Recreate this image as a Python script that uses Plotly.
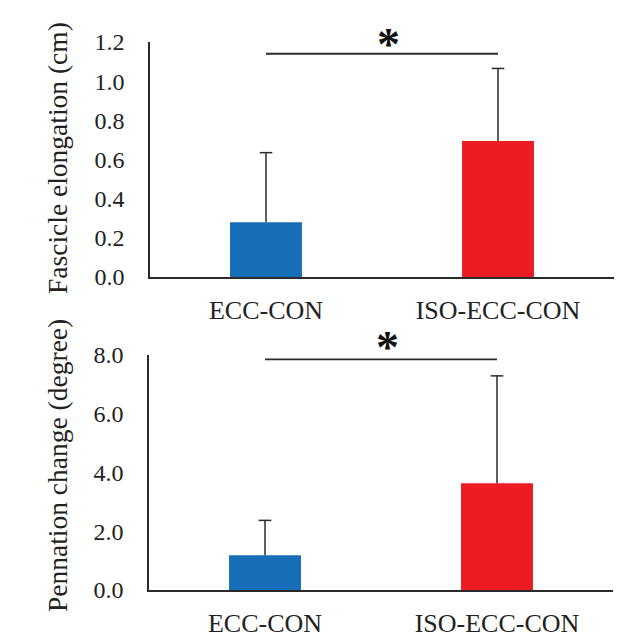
import plotly.graph_objects as go

categories = ["ECC-CON", "ISO-ECC-CON"]
fascicle_mean = [0.28, 0.695]
fascicle_sd = [0.355, 0.37]
pennation_mean = [1.18, 3.63]
pennation_sd = [1.19, 3.66]
fascicle_ticks = [0.0, 0.2, 0.4, 0.6, 0.8, 1.0, 1.2]
pennation_ticks = [0.0, 2.0, 4.0, 6.0, 8.0]
bar_colors = ["#176EB8", "#EC1C24"]
sig_fascicle = 1.14
sig_pennation = 7.85

FONT = "Liberation Serif, Times New Roman, serif"
AX = "#2a2a2a"
W = H = 640
OFF = 8  # page body margin


def px(xp):
    return (xp - OFF) / W


def py(yp):
    return 1 - (yp - OFF) / H


fig = go.Figure()


def add_panel(means, sds, xa, ya):
    fig.add_trace(go.Bar(x=categories, y=means, marker=dict(color=bar_colors, line=dict(width=0)),
                         width=0.31, xaxis=xa, yaxis=ya, showlegend=False))
    ex, ey = [], []
    for c, m, s in zip(categories, means, sds):
        ex += [c, c, None]
        ey += [m, m + s, None]
    fig.add_trace(go.Scatter(x=ex, y=ey, mode="lines", line=dict(color=AX, width=1.5),
                             xaxis=xa, yaxis=ya, showlegend=False, hoverinfo="skip"))
    fig.add_trace(go.Scatter(x=categories, y=[m + s for m, s in zip(means, sds)], mode="markers",
                             marker=dict(symbol="line-ew", size=9, line=dict(color=AX, width=1.5)),
                             xaxis=xa, yaxis=ya, showlegend=False, hoverinfo="skip", cliponaxis=False))


add_panel(fascicle_mean, fascicle_sd, "x", "y")
add_panel(pennation_mean, pennation_sd, "x2", "y2")

xcommon = dict(range=[-0.5, 1.5], showgrid=False, zeroline=False, showline=True, linecolor=AX,
               linewidth=1.5, ticks="", tickfont=dict(family=FONT, size=26, color="#222"),
               ticklabelstandoff=9, fixedrange=True, automargin=False)
ycommon = dict(showgrid=False, zeroline=False, showline=True, linecolor=AX, linewidth=1.5,
               ticks="", tickfont=dict(family=FONT, size=24, color="#222"), ticklabelstandoff=19,
               tickformat=".1f", automargin=False)

fig.update_layout(
    width=W, height=H, margin=dict(l=0, r=0, t=0, b=0, autoexpand=False),
    paper_bgcolor="white", plot_bgcolor="white", showlegend=False,
    xaxis=dict(domain=[px(150), px(614)], anchor="y", **xcommon),
    yaxis=dict(domain=[py(277), py(42)], anchor="x", range=[0, 1.2],
               tickvals=fascicle_ticks, **ycommon),
    xaxis2=dict(domain=[px(149), px(613)], anchor="y2", **xcommon),
    yaxis2=dict(domain=[py(590), py(355)], anchor="x2", range=[0, 8],
                tickvals=pennation_ticks, **ycommon),
)

# significance lines
fig.add_shape(type="line", xref="x", yref="y", x0=categories[0], x1=categories[1],
              y0=sig_fascicle, y1=sig_fascicle, line=dict(color=AX, width=1.8))
fig.add_shape(type="line", xref="x2", yref="y2", x0=categories[0], x1=categories[1],
              y0=sig_pennation, y1=sig_pennation, line=dict(color=AX, width=1.8))
fig.add_annotation(x=0.5, y=sig_fascicle, xref="x", yref="y", text="<b>*</b>", showarrow=False,
                   font=dict(family=FONT, size=46, color="#111"), xshift=6, yshift=-18,
                   xanchor="center", yanchor="bottom")
fig.add_annotation(x=0.5, y=sig_pennation, xref="x2", yref="y2", text="<b>*</b>", showarrow=False,
                   font=dict(family=FONT, size=46, color="#111"), xshift=6, yshift=-16,
                   xanchor="center", yanchor="bottom")

# axis titles
fig.add_annotation(x=px(57), y=py(158), xref="paper", yref="paper", text="Fascicle elongation (cm)",
                   textangle=-90, showarrow=False, xanchor="center", yanchor="middle",
                   font=dict(family=FONT, size=27.5, color="#222"))
fig.add_annotation(x=px(57), y=py(466), xref="paper", yref="paper", text="Pennation change (degree)",
                   textangle=-90, showarrow=False, xanchor="center", yanchor="middle",
                   font=dict(family=FONT, size=27.5, color="#222"))

fig.write_html("out.html")
